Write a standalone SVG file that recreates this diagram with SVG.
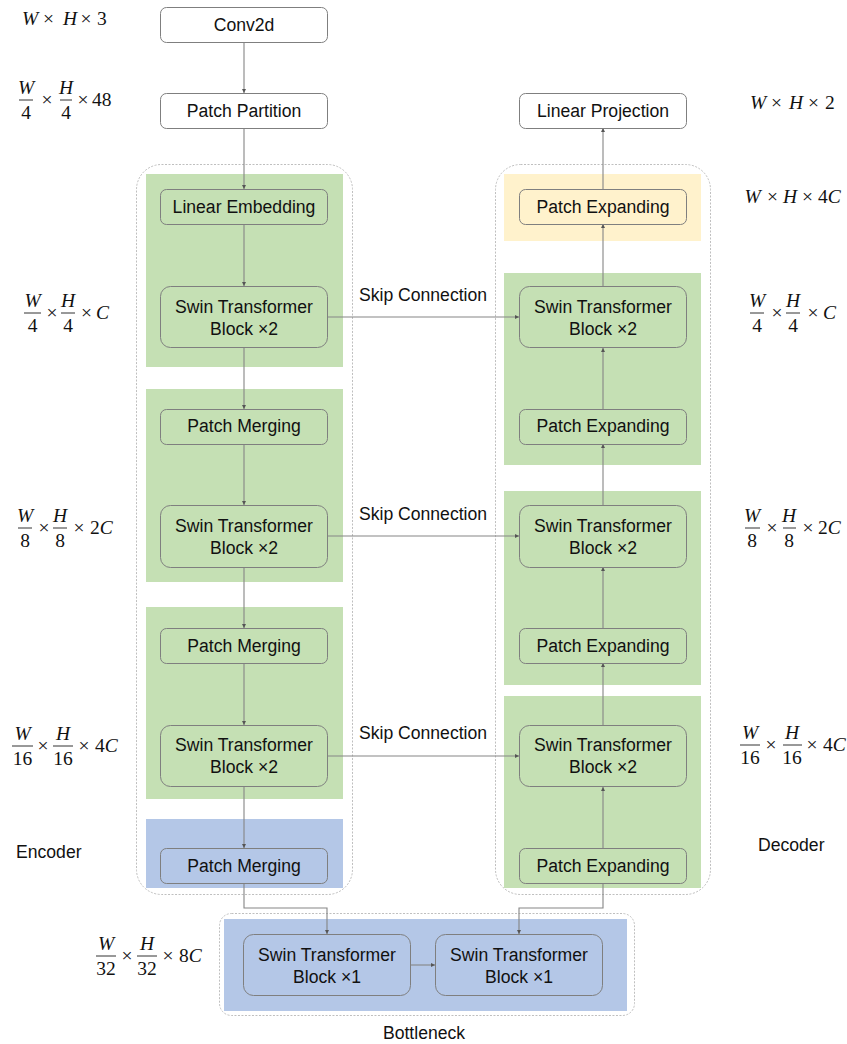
<svg xmlns="http://www.w3.org/2000/svg" width="847" height="1044" viewBox="0 0 847 1044">
<style>
.t{font-family:"Liberation Sans",Arial,sans-serif;font-size:17.6px;fill:#111;text-anchor:middle}
.lbl{font-family:"Liberation Sans",Arial,sans-serif;font-size:17.6px;fill:#111}
.m{font-family:"Liberation Serif","Times New Roman",serif;font-size:19.5px;fill:#111}
.i{font-style:italic}
.c{text-anchor:middle}
.bar{stroke:#333;stroke-width:1}
.node{stroke:#7f7f7f;stroke-width:1}
.white{fill:#fff}
.green{fill:#c5e0b4}
.blue{fill:#b4c7e7}
.yellow{fill:#fff2cc}
.outer{fill:none;stroke:#bfbfbf;stroke-width:1;stroke-dasharray:2 1.5}
.con{fill:none;stroke:#858585;stroke-width:1.1}
</style>
<defs>
<marker id="ah" viewBox="0 0 6 6" refX="6" refY="3" markerWidth="4" markerHeight="4" orient="auto" markerUnits="userSpaceOnUse">
<path d="M0,0 L6,3 L0,6 z" fill="#555"/>
</marker>
</defs>
<rect width="847" height="1044" fill="#fff"/>

<!-- outer containers -->
<g id="encoder-container">
<rect class="outer" x="136.5" y="164.5" width="216" height="730" rx="25"/>
<rect class="green" x="146" y="174" width="197" height="193"/>
<rect class="green" x="146" y="389" width="197" height="193"/>
<rect class="green" x="146" y="607" width="197" height="192"/>
<rect class="blue" x="146" y="819" width="197" height="69"/>
<text class="lbl" x="16" y="858">Encoder</text>
</g>
<g id="decoder-container">
<rect class="outer" x="495.5" y="164.5" width="215" height="730" rx="25"/>
<rect class="yellow" x="504" y="174" width="197" height="67"/>
<rect class="green" x="504" y="273" width="197" height="192"/>
<rect class="green" x="504" y="491" width="197" height="194"/>
<rect class="green" x="504" y="696" width="197" height="192"/>
<text class="lbl" x="758" y="851">Decoder</text>
</g>
<g id="bottleneck-container">
<rect class="outer" x="219.5" y="913.5" width="415" height="102" rx="12"/>
<rect class="blue" x="224" y="919" width="403" height="92"/>
<text class="t" x="424" y="1039">Bottleneck</text>
</g>

<!-- connectors -->
<g id="connectors">
<line class="con" x1="244" y1="42" x2="244" y2="93" marker-end="url(#ah)"/>
<line class="con" x1="244" y1="128" x2="244" y2="189" marker-end="url(#ah)"/>
<line class="con" x1="244" y1="224" x2="244" y2="286" marker-end="url(#ah)"/>
<line class="con" x1="244" y1="348" x2="244" y2="409" marker-end="url(#ah)"/>
<line class="con" x1="244" y1="444" x2="244" y2="505" marker-end="url(#ah)"/>
<line class="con" x1="244" y1="567" x2="244" y2="628" marker-end="url(#ah)"/>
<line class="con" x1="244" y1="663" x2="244" y2="725" marker-end="url(#ah)"/>
<line class="con" x1="244" y1="787" x2="244" y2="848" marker-end="url(#ah)"/>
<polyline class="con" points="244,883 244,908 327,908 327,934" marker-end="url(#ah)"/>
<line class="con" x1="411" y1="965" x2="435" y2="965" marker-end="url(#ah)"/>
<polyline class="con" points="603,883 603,908 519,908 519,934" marker-end="url(#ah)"/>
<line class="con" x1="603" y1="848" x2="603" y2="787" marker-end="url(#ah)"/>
<line class="con" x1="603" y1="725" x2="603" y2="663" marker-end="url(#ah)"/>
<line class="con" x1="603" y1="628" x2="603" y2="567" marker-end="url(#ah)"/>
<line class="con" x1="603" y1="505" x2="603" y2="444" marker-end="url(#ah)"/>
<line class="con" x1="603" y1="409" x2="603" y2="348" marker-end="url(#ah)"/>
<line class="con" x1="603" y1="286" x2="603" y2="224" marker-end="url(#ah)"/>
<line class="con" x1="603" y1="189" x2="603" y2="128" marker-end="url(#ah)"/>
<line class="con" x1="328" y1="317" x2="519" y2="317" marker-end="url(#ah)"/>
<line class="con" x1="328" y1="536" x2="519" y2="536" marker-end="url(#ah)"/>
<line class="con" x1="328" y1="756" x2="519" y2="756" marker-end="url(#ah)"/>
<text class="t" x="423" y="301">Skip Connection</text>
<text class="t" x="423" y="520">Skip Connection</text>
<text class="t" x="423" y="739">Skip Connection</text>
</g>

<!-- encoder nodes -->
<g id="conv2d"><rect class="node white" x="160.5" y="7.5" width="167" height="35" rx="6"/><text class="t" x="244" y="31">Conv2d</text></g>
<g id="patch-partition"><rect class="node white" x="160.5" y="93.5" width="167" height="35" rx="6"/><text class="t" x="244" y="117">Patch Partition</text></g>
<g id="linear-embedding"><rect class="node green" x="160.5" y="189.5" width="167" height="35" rx="6"/><text class="t" x="244" y="213">Linear Embedding</text></g>
<g id="enc-swin-1"><rect class="node green" x="160.5" y="286.5" width="167" height="61" rx="10"/><text class="t" x="244" y="313">Swin Transformer</text><text class="t" x="244" y="335">Block ×2</text></g>
<g id="enc-merge-1"><rect class="node green" x="160.5" y="409.5" width="167" height="35" rx="6"/><text class="t" x="244" y="432">Patch Merging</text></g>
<g id="enc-swin-2"><rect class="node green" x="160.5" y="505.5" width="167" height="62" rx="10"/><text class="t" x="244" y="532">Swin Transformer</text><text class="t" x="244" y="554">Block ×2</text></g>
<g id="enc-merge-2"><rect class="node green" x="160.5" y="628.5" width="167" height="35" rx="6"/><text class="t" x="244" y="652">Patch Merging</text></g>
<g id="enc-swin-3"><rect class="node green" x="160.5" y="725.5" width="167" height="61" rx="10"/><text class="t" x="244" y="751">Swin Transformer</text><text class="t" x="244" y="773">Block ×2</text></g>
<g id="enc-merge-3"><rect class="node blue" x="160.5" y="848.5" width="167" height="35" rx="6"/><text class="t" x="244" y="872">Patch Merging</text></g>

<!-- bottleneck nodes -->
<g id="bn-swin-1"><rect class="node blue" x="243.5" y="934.5" width="167" height="61" rx="10"/><text class="t" x="327" y="961">Swin Transformer</text><text class="t" x="327" y="983">Block ×1</text></g>
<g id="bn-swin-2"><rect class="node blue" x="435.5" y="934.5" width="167" height="61" rx="10"/><text class="t" x="519" y="961">Swin Transformer</text><text class="t" x="519" y="983">Block ×1</text></g>

<!-- decoder nodes -->
<g id="linear-projection"><rect class="node white" x="519.5" y="93.5" width="167" height="35" rx="6"/><text class="t" x="603" y="117">Linear Projection</text></g>
<g id="dec-expand-0"><rect class="node yellow" x="519.5" y="189.5" width="167" height="35" rx="6"/><text class="t" x="603" y="213">Patch Expanding</text></g>
<g id="dec-swin-1"><rect class="node green" x="519.5" y="286.5" width="167" height="61" rx="10"/><text class="t" x="603" y="313">Swin Transformer</text><text class="t" x="603" y="335">Block ×2</text></g>
<g id="dec-expand-1"><rect class="node green" x="519.5" y="409.5" width="167" height="35" rx="6"/><text class="t" x="603" y="432">Patch Expanding</text></g>
<g id="dec-swin-2"><rect class="node green" x="519.5" y="505.5" width="167" height="62" rx="10"/><text class="t" x="603" y="532">Swin Transformer</text><text class="t" x="603" y="554">Block ×2</text></g>
<g id="dec-expand-2"><rect class="node green" x="519.5" y="628.5" width="167" height="35" rx="6"/><text class="t" x="603" y="652">Patch Expanding</text></g>
<g id="dec-swin-3"><rect class="node green" x="519.5" y="725.5" width="167" height="61" rx="10"/><text class="t" x="603" y="751">Swin Transformer</text><text class="t" x="603" y="773">Block ×2</text></g>
<g id="dec-expand-3"><rect class="node green" x="519.5" y="848.5" width="167" height="35" rx="6"/><text class="t" x="603" y="872">Patch Expanding</text></g>

<!-- dimension labels -->
<g id="dims">
<!-- W x H x 3 -->
<text class="m" y="25"><tspan class="i c" x="30">W</tspan><tspan class="c" x="48.5">×</tspan><tspan class="i c" x="70">H</tspan><tspan class="c" x="86">×</tspan><tspan x="97">3</tspan></text>
<!-- W/4 x H/4 x 48 -->
<text class="m i c" x="26" y="94">W</text><line class="bar" x1="19" y1="100" x2="33" y2="100"/><text class="m c" x="26" y="119">4</text>
<text class="m c" x="47" y="106">×</text>
<text class="m i c" x="66" y="94">H</text><line class="bar" x1="60" y1="100" x2="72" y2="100"/><text class="m c" x="66" y="119">4</text>
<text class="m c" x="83" y="106">×</text><text class="m" x="92" y="106">48</text>
<!-- left W/4 x H/4 x C -->
<text class="m i c" x="32.5" y="307">W</text><line class="bar" x1="24" y1="313" x2="41" y2="313"/><text class="m c" x="32.5" y="332">4</text>
<text class="m c" x="52" y="319">×</text>
<text class="m i c" x="68" y="307">H</text><line class="bar" x1="61" y1="313" x2="75" y2="313"/><text class="m c" x="68" y="332">4</text>
<text class="m c" x="86.5" y="319">×</text><text class="m i" x="96" y="319">C</text>
<!-- left W/8 x H/8 x 2C -->
<text class="m i c" x="25" y="522">W</text><line class="bar" x1="18" y1="528" x2="32" y2="528"/><text class="m c" x="25" y="547">8</text>
<text class="m c" x="44" y="534">×</text>
<text class="m i c" x="60" y="522">H</text><line class="bar" x1="53" y1="528" x2="67" y2="528"/><text class="m c" x="60" y="547">8</text>
<text class="m c" x="79" y="534">×</text><text class="m" x="90" y="534">2<tspan class="i">C</tspan></text>
<!-- left W/16 x H/16 x 4C -->
<text class="m i c" x="22.5" y="740">W</text><line class="bar" x1="12" y1="746" x2="33" y2="746"/><text class="m c" x="22.5" y="765">16</text>
<text class="m c" x="43" y="752">×</text>
<text class="m i c" x="63" y="740">H</text><line class="bar" x1="53" y1="746" x2="73" y2="746"/><text class="m c" x="63" y="765">16</text>
<text class="m c" x="84" y="752">×</text><text class="m" x="95" y="752">4<tspan class="i">C</tspan></text>
<!-- bottleneck W/32 x H/32 x 8C -->
<text class="m i c" x="106" y="950">W</text><line class="bar" x1="96" y1="956" x2="116" y2="956"/><text class="m c" x="106" y="975">32</text>
<text class="m c" x="127" y="962">×</text>
<text class="m i c" x="147" y="950">H</text><line class="bar" x1="137" y1="956" x2="157" y2="956"/><text class="m c" x="147" y="975">32</text>
<text class="m c" x="168" y="962">×</text><text class="m" x="179" y="962">8<tspan class="i">C</tspan></text>
<!-- right W x H x 2 -->
<text class="m" y="109"><tspan class="i c" x="758">W</tspan><tspan class="c" x="776.5">×</tspan><tspan class="i c" x="796">H</tspan><tspan class="c" x="813.5">×</tspan><tspan x="825">2</tspan></text>
<!-- right W x H x 4C -->
<text class="m" y="203"><tspan class="i c" x="752.5">W</tspan><tspan class="c" x="772.5">×</tspan><tspan class="i c" x="790">H</tspan><tspan class="c" x="807.5">×</tspan><tspan x="818">4</tspan><tspan class="i">C</tspan></text>
<!-- right W/4 x H/4 x C -->
<text class="m i c" x="757" y="307">W</text><line class="bar" x1="750" y1="313" x2="764" y2="313"/><text class="m c" x="757" y="332">4</text>
<text class="m c" x="777" y="319">×</text>
<text class="m i c" x="793" y="307">H</text><line class="bar" x1="786" y1="313" x2="800" y2="313"/><text class="m c" x="793" y="332">4</text>
<text class="m c" x="813" y="319">×</text><text class="m i" x="823" y="319">C</text>
<!-- right W/8 x H/8 x 2C -->
<text class="m i c" x="752" y="522">W</text><line class="bar" x1="745" y1="528" x2="760" y2="528"/><text class="m c" x="752" y="547">8</text>
<text class="m c" x="772" y="534">×</text>
<text class="m i c" x="789" y="522">H</text><line class="bar" x1="783" y1="528" x2="796" y2="528"/><text class="m c" x="789" y="547">8</text>
<text class="m c" x="808" y="534">×</text><text class="m" x="818" y="534">2<tspan class="i">C</tspan></text>
<!-- right W/16 x H/16 x 4C -->
<text class="m i c" x="750" y="739">W</text><line class="bar" x1="740" y1="745" x2="760" y2="745"/><text class="m c" x="750" y="764">16</text>
<text class="m c" x="771" y="751">×</text>
<text class="m i c" x="792" y="739">H</text><line class="bar" x1="783" y1="745" x2="802" y2="745"/><text class="m c" x="792" y="764">16</text>
<text class="m c" x="812" y="751">×</text><text class="m" x="823" y="751">4<tspan class="i">C</tspan></text>
</g>
</svg>
